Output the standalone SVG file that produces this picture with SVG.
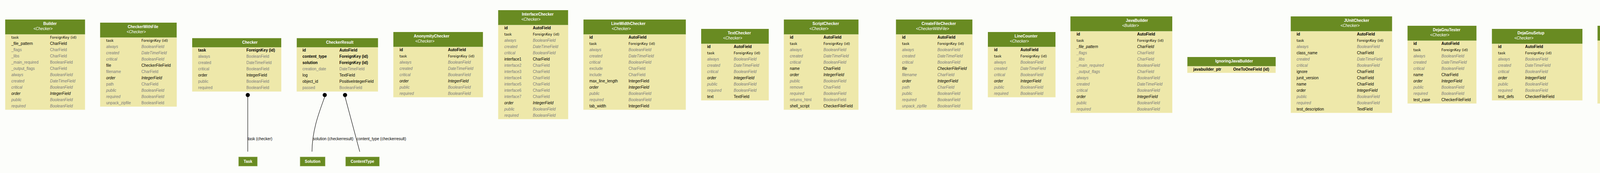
<svg xmlns="http://www.w3.org/2000/svg" width="6851" height="443" viewBox="0 0 6851 443">
<style>
.h{fill:#698b22}
.hl{fill:#93ad5a}
.b{fill:#eee8aa;stroke:#f4f0c8;stroke-width:0.6}
text{font-family:"Liberation Sans",Arial,sans-serif}
.t{font-weight:bold;font-size:10px;fill:#fff}
.s{font-style:italic;font-size:10px;fill:#fff}
.k{font-weight:bold;font-size:10px;fill:#000}
.f{font-family:"DejaVu Sans",sans-serif;font-size:9px;fill:#000}
.n{font-size:10px;fill:#000}
.i{font-style:italic;font-size:10px;fill:#000}
.g{font-size:10px;fill:#7b7b7b}
.gi{font-style:italic;font-size:10px;fill:#7b7b7b}
.el{font-size:10px;fill:#000}
.nt{font-weight:bold;font-size:10px;fill:#fff;text-anchor:middle}
.nb{fill:#698b22;stroke:#c9d8a8;stroke-width:0.8}
</style>
<rect width="6851" height="443" fill="#fcfdfa"/>

<g id="Builder" transform="translate(13.3,50)">
<rect class="h" width="204.4" height="38.5"/><rect class="hl" y="37.5" width="204.4" height="1"/><rect class="b" y="38.5" width="204.4" height="192.5"/>
<text class="t" x="97.4" y="14.3">Builder</text><text class="s" x="72.4" y="27">&lt;Checker&gt;</text>
<text class="f" x="15.7" y="48.5">task</text><text class="f" x="114.7" y="48.5">ForeignKey (id)</text>
<text class="n" x="15.7" y="64.5">_file_pattern</text><text class="n" x="114.7" y="64.5">CharField</text>
<text class="g" x="15.7" y="80.5">_flags</text><text class="g" x="114.7" y="80.5">CharField</text>
<text class="g" x="15.7" y="96.5">_libs</text><text class="g" x="114.7" y="96.5">CharField</text>
<text class="g" x="15.7" y="112.5">_main_required</text><text class="g" x="114.7" y="112.5">BooleanField</text>
<text class="g" x="15.7" y="128.5">_output_flags</text><text class="g" x="114.7" y="128.5">CharField</text>
<text class="gi" x="15.7" y="144.5">always</text><text class="gi" x="114.7" y="144.5">BooleanField</text>
<text class="gi" x="15.7" y="160.5">created</text><text class="gi" x="114.7" y="160.5">DateTimeField</text>
<text class="gi" x="15.7" y="176.5">critical</text><text class="gi" x="114.7" y="176.5">BooleanField</text>
<text class="i" x="15.7" y="192.5">order</text><text class="i" x="114.7" y="192.5">IntegerField</text>
<text class="gi" x="15.7" y="208.5">public</text><text class="gi" x="114.7" y="208.5">BooleanField</text>
<text class="gi" x="15.7" y="224.5">required</text><text class="gi" x="114.7" y="224.5">BooleanField</text>
</g>

<g id="CheckerWithFile" transform="translate(256.3,58)">
<rect class="h" width="196" height="38.5"/><rect class="hl" y="37.5" width="196" height="1"/><rect class="b" y="38.5" width="196" height="176.5"/>
<text class="t" x="70.7" y="14.3">CheckerWithFile</text><text class="s" x="68" y="27">&lt;Checker&gt;</text>
<text class="f" x="15.4" y="48.5">task</text><text class="f" x="105.7" y="48.5">ForeignKey (id)</text>
<text class="gi" x="15.4" y="64.5">always</text><text class="gi" x="105.7" y="64.5">BooleanField</text>
<text class="gi" x="15.4" y="80.5">created</text><text class="gi" x="105.7" y="80.5">DateTimeField</text>
<text class="gi" x="15.4" y="96.5">critical</text><text class="gi" x="105.7" y="96.5">BooleanField</text>
<text class="n" x="15.4" y="112.5">file</text><text class="n" x="105.7" y="112.5">CheckerFileField</text>
<text class="g" x="15.4" y="128.5">filename</text><text class="g" x="105.7" y="128.5">CharField</text>
<text class="i" x="15.4" y="144.5">order</text><text class="i" x="105.7" y="144.5">IntegerField</text>
<text class="g" x="15.4" y="160.5">path</text><text class="g" x="105.7" y="160.5">CharField</text>
<text class="gi" x="15.4" y="176.5">public</text><text class="gi" x="105.7" y="176.5">BooleanField</text>
<text class="gi" x="15.4" y="192.5">required</text><text class="gi" x="105.7" y="192.5">BooleanField</text>
<text class="g" x="15.4" y="208.5">unpack_zipfile</text><text class="g" x="105.7" y="208.5">BooleanField</text>
</g>

<g id="Checker" transform="translate(492,97.7)">
<rect class="h" width="228" height="24"/><rect class="hl" y="23" width="228" height="1"/><rect class="b" y="24" width="228" height="112.5"/>
<text class="t" x="128" y="14">Checker</text>
<text class="k" x="15.3" y="34">task</text><text class="k" x="138.7" y="34">ForeignKey (id)</text>
<text class="g" x="15.3" y="50">always</text><text class="g" x="138.7" y="50">BooleanField</text>
<text class="g" x="15.3" y="66">created</text><text class="g" x="138.7" y="66">DateTimeField</text>
<text class="g" x="15.3" y="82">critical</text><text class="g" x="138.7" y="82">BooleanField</text>
<text class="n" x="15.3" y="98">order</text><text class="n" x="138.7" y="98">IntegerField</text>
<text class="g" x="15.3" y="114">public</text><text class="g" x="138.7" y="114">BooleanField</text>
<text class="g" x="15.3" y="130">required</text><text class="g" x="138.7" y="130">BooleanField</text>
</g>

<g id="CheckerResult" transform="translate(759.7,97.7)">
<rect class="h" width="208" height="24"/><rect class="hl" y="23" width="208" height="1"/><rect class="b" y="24" width="208" height="112.5"/>
<text class="t" x="75" y="14">CheckerResult</text>
<text class="k" x="14.6" y="34">id</text><text class="k" x="109" y="34">AutoField</text>
<text class="k" x="14.6" y="50">content_type</text><text class="k" x="109" y="50">ForeignKey (id)</text>
<text class="k" x="14.6" y="66">solution</text><text class="k" x="109" y="66">ForeignKey (id)</text>
<text class="g" x="14.6" y="82">creation_date</text><text class="g" x="109" y="82">DateTimeField</text>
<text class="n" x="14.6" y="98">log</text><text class="n" x="109" y="98">TextField</text>
<text class="n" x="14.6" y="114">object_id</text><text class="n" x="109" y="114">PositiveIntegerField</text>
<text class="g" x="14.6" y="130">passed</text><text class="g" x="109" y="130">BooleanField</text>
</g>

<g id="AnonymityChecker" transform="translate(1007,82)">
<rect class="h" width="229.3" height="38.5"/><rect class="hl" y="37.5" width="229.3" height="1"/><rect class="b" y="38.5" width="229.3" height="128.5"/>
<text class="t" x="52.3" y="14.3">AnonymityChecker</text><text class="s" x="56.3" y="27">&lt;Checker&gt;</text>
<text class="k" x="15.7" y="48.5">id</text><text class="k" x="139.7" y="48.5">AutoField</text>
<text class="f" x="15.7" y="64.5">task</text><text class="f" x="139.7" y="64.5">ForeignKey (id)</text>
<text class="gi" x="15.7" y="80.5">always</text><text class="gi" x="139.7" y="80.5">BooleanField</text>
<text class="gi" x="15.7" y="96.5">created</text><text class="gi" x="139.7" y="96.5">DateTimeField</text>
<text class="gi" x="15.7" y="112.5">critical</text><text class="gi" x="139.7" y="112.5">BooleanField</text>
<text class="i" x="15.7" y="128.5">order</text><text class="i" x="139.7" y="128.5">IntegerField</text>
<text class="gi" x="15.7" y="144.5">public</text><text class="gi" x="139.7" y="144.5">BooleanField</text>
<text class="gi" x="15.7" y="160.5">required</text><text class="gi" x="139.7" y="160.5">BooleanField</text>
</g>

<g id="InterfaceChecker" transform="translate(1275.3,26)">
<rect class="h" width="179" height="38.5"/><rect class="hl" y="37.5" width="179" height="1"/><rect class="b" y="38.5" width="179" height="240.5"/>
<text class="t" x="60.7" y="14.3">InterfaceChecker</text><text class="s" x="59.4" y="27">&lt;Checker&gt;</text>
<text class="k" x="15.7" y="48.5">id</text><text class="k" x="88.7" y="48.5">AutoField</text>
<text class="f" x="15.7" y="64.5">task</text><text class="f" x="88.7" y="64.5">ForeignKey (id)</text>
<text class="gi" x="15.7" y="80.5">always</text><text class="gi" x="88.7" y="80.5">BooleanField</text>
<text class="gi" x="15.7" y="96.5">created</text><text class="gi" x="88.7" y="96.5">DateTimeField</text>
<text class="gi" x="15.7" y="112.5">critical</text><text class="gi" x="88.7" y="112.5">BooleanField</text>
<text class="n" x="15.7" y="128.5">interface1</text><text class="n" x="88.7" y="128.5">CharField</text>
<text class="g" x="15.7" y="144.5">interface2</text><text class="g" x="88.7" y="144.5">CharField</text>
<text class="g" x="15.7" y="160.5">interface3</text><text class="g" x="88.7" y="160.5">CharField</text>
<text class="g" x="15.7" y="176.5">interface4</text><text class="g" x="88.7" y="176.5">CharField</text>
<text class="g" x="15.7" y="192.5">interface5</text><text class="g" x="88.7" y="192.5">CharField</text>
<text class="g" x="15.7" y="208.5">interface6</text><text class="g" x="88.7" y="208.5">CharField</text>
<text class="g" x="15.7" y="224.5">interface7</text><text class="g" x="88.7" y="224.5">CharField</text>
<text class="i" x="15.7" y="240.5">order</text><text class="i" x="88.7" y="240.5">IntegerField</text>
<text class="gi" x="15.7" y="256.5">public</text><text class="gi" x="88.7" y="256.5">BooleanField</text>
<text class="gi" x="15.7" y="272.5">required</text><text class="gi" x="88.7" y="272.5">BooleanField</text>
</g>

<g id="LineWidthChecker" transform="translate(1493.7,50)">
<rect class="h" width="262" height="38.5"/><rect class="hl" y="37.5" width="262" height="1"/><rect class="b" y="38.5" width="262" height="192.5"/>
<text class="t" x="71" y="14.3">LineWidthChecker</text><text class="s" x="72.3" y="27">&lt;Checker&gt;</text>
<text class="k" x="15" y="48.5">id</text><text class="k" x="115.3" y="48.5">AutoField</text>
<text class="f" x="15" y="64.5">task</text><text class="f" x="115.3" y="64.5">ForeignKey (id)</text>
<text class="gi" x="15" y="80.5">always</text><text class="gi" x="115.3" y="80.5">BooleanField</text>
<text class="gi" x="15" y="96.5">created</text><text class="gi" x="115.3" y="96.5">DateTimeField</text>
<text class="gi" x="15" y="112.5">critical</text><text class="gi" x="115.3" y="112.5">BooleanField</text>
<text class="g" x="15" y="128.5">exclude</text><text class="g" x="115.3" y="128.5">CharField</text>
<text class="g" x="15" y="144.5">include</text><text class="g" x="115.3" y="144.5">CharField</text>
<text class="n" x="15" y="160.5">max_line_length</text><text class="n" x="115.3" y="160.5">IntegerField</text>
<text class="i" x="15" y="176.5">order</text><text class="i" x="115.3" y="176.5">IntegerField</text>
<text class="gi" x="15" y="192.5">public</text><text class="gi" x="115.3" y="192.5">BooleanField</text>
<text class="gi" x="15" y="208.5">required</text><text class="gi" x="115.3" y="208.5">BooleanField</text>
<text class="n" x="15" y="224.5">tab_width</text><text class="n" x="115.3" y="224.5">IntegerField</text>
</g>

<g id="TextChecker" transform="translate(1795,74)">
<rect class="h" width="173" height="38.5"/><rect class="hl" y="37.5" width="173" height="1"/><rect class="b" y="38.5" width="173" height="144.5"/>
<text class="t" x="68" y="14.3">TextChecker</text><text class="s" x="56.3" y="27">&lt;Checker&gt;</text>
<text class="k" x="15.3" y="48.5">id</text><text class="k" x="83.3" y="48.5">AutoField</text>
<text class="f" x="15.3" y="64.5">task</text><text class="f" x="83.3" y="64.5">ForeignKey (id)</text>
<text class="gi" x="15.3" y="80.5">always</text><text class="gi" x="83.3" y="80.5">BooleanField</text>
<text class="gi" x="15.3" y="96.5">created</text><text class="gi" x="83.3" y="96.5">DateTimeField</text>
<text class="gi" x="15.3" y="112.5">critical</text><text class="gi" x="83.3" y="112.5">BooleanField</text>
<text class="i" x="15.3" y="128.5">order</text><text class="i" x="83.3" y="128.5">IntegerField</text>
<text class="gi" x="15.3" y="144.5">public</text><text class="gi" x="83.3" y="144.5">BooleanField</text>
<text class="gi" x="15.3" y="160.5">required</text><text class="gi" x="83.3" y="160.5">BooleanField</text>
<text class="n" x="15.3" y="176.5">text</text><text class="n" x="83.3" y="176.5">TextField</text>
</g>

<g id="ScriptChecker" transform="translate(2006.7,50)">
<rect class="h" width="191" height="38.5"/><rect class="hl" y="37.5" width="191" height="1"/><rect class="b" y="38.5" width="191" height="192.5"/>
<text class="t" x="73.3" y="14.3">ScriptChecker</text><text class="s" x="65.6" y="27">&lt;Checker&gt;</text>
<text class="k" x="15.3" y="48.5">id</text><text class="k" x="101.3" y="48.5">AutoField</text>
<text class="f" x="15.3" y="64.5">task</text><text class="f" x="101.3" y="64.5">ForeignKey (id)</text>
<text class="gi" x="15.3" y="80.5">always</text><text class="gi" x="101.3" y="80.5">BooleanField</text>
<text class="gi" x="15.3" y="96.5">created</text><text class="gi" x="101.3" y="96.5">DateTimeField</text>
<text class="gi" x="15.3" y="112.5">critical</text><text class="gi" x="101.3" y="112.5">BooleanField</text>
<text class="n" x="15.3" y="128.5">name</text><text class="n" x="101.3" y="128.5">CharField</text>
<text class="i" x="15.3" y="144.5">order</text><text class="i" x="101.3" y="144.5">IntegerField</text>
<text class="gi" x="15.3" y="160.5">public</text><text class="gi" x="101.3" y="160.5">BooleanField</text>
<text class="g" x="15.3" y="176.5">remove</text><text class="g" x="101.3" y="176.5">CharField</text>
<text class="gi" x="15.3" y="192.5">required</text><text class="gi" x="101.3" y="192.5">BooleanField</text>
<text class="g" x="15.3" y="208.5">returns_html</text><text class="g" x="101.3" y="208.5">BooleanField</text>
<text class="n" x="15.3" y="224.5">shell_script</text><text class="n" x="101.3" y="224.5">CheckerFileField</text>
</g>

<g id="CreateFileChecker" transform="translate(2293.7,50)">
<rect class="h" width="195.6" height="38.5"/><rect class="hl" y="37.5" width="195.6" height="1"/><rect class="b" y="38.5" width="195.6" height="192.5"/>
<text class="t" x="65.6" y="14.3">CreateFileChecker</text><text class="s" x="51.3" y="27">&lt;CheckerWithFile&gt;</text>
<text class="k" x="15.6" y="48.5">id</text><text class="k" x="106" y="48.5">AutoField</text>
<text class="f" x="15.6" y="64.5">task</text><text class="f" x="106" y="64.5">ForeignKey (id)</text>
<text class="gi" x="15.6" y="80.5">always</text><text class="gi" x="106" y="80.5">BooleanField</text>
<text class="gi" x="15.6" y="96.5">created</text><text class="gi" x="106" y="96.5">DateTimeField</text>
<text class="gi" x="15.6" y="112.5">critical</text><text class="gi" x="106" y="112.5">BooleanField</text>
<text class="i" x="15.6" y="128.5">file</text><text class="i" x="106" y="128.5">CheckerFileField</text>
<text class="gi" x="15.6" y="144.5">filename</text><text class="gi" x="106" y="144.5">CharField</text>
<text class="i" x="15.6" y="160.5">order</text><text class="i" x="106" y="160.5">IntegerField</text>
<text class="gi" x="15.6" y="176.5">path</text><text class="gi" x="106" y="176.5">CharField</text>
<text class="gi" x="15.6" y="192.5">public</text><text class="gi" x="106" y="192.5">BooleanField</text>
<text class="gi" x="15.6" y="208.5">required</text><text class="gi" x="106" y="208.5">BooleanField</text>
<text class="gi" x="15.6" y="224.5">unpack_zipfile</text><text class="gi" x="106" y="224.5">BooleanField</text>
</g>

<g id="LineCounter" transform="translate(2529,82)">
<rect class="h" width="173" height="38.5"/><rect class="hl" y="37.5" width="173" height="1"/><rect class="b" y="38.5" width="173" height="128.5"/>
<text class="t" x="68.3" y="14.3">LineCounter</text><text class="s" x="56.3" y="27">&lt;Checker&gt;</text>
<text class="k" x="15.7" y="48.5">id</text><text class="k" x="83.3" y="48.5">AutoField</text>
<text class="f" x="15.7" y="64.5">task</text><text class="f" x="83.3" y="64.5">ForeignKey (id)</text>
<text class="gi" x="15.7" y="80.5">always</text><text class="gi" x="83.3" y="80.5">BooleanField</text>
<text class="gi" x="15.7" y="96.5">created</text><text class="gi" x="83.3" y="96.5">DateTimeField</text>
<text class="gi" x="15.7" y="112.5">critical</text><text class="gi" x="83.3" y="112.5">BooleanField</text>
<text class="i" x="15.7" y="128.5">order</text><text class="i" x="83.3" y="128.5">IntegerField</text>
<text class="gi" x="15.7" y="144.5">public</text><text class="gi" x="83.3" y="144.5">BooleanField</text>
<text class="gi" x="15.7" y="160.5">required</text><text class="gi" x="83.3" y="160.5">BooleanField</text>
</g>

<g id="JavaBuilder" transform="translate(2740.3,42)">
<rect class="h" width="260.7" height="38.5"/><rect class="hl" y="37.5" width="260.7" height="1"/><rect class="b" y="38.5" width="260.7" height="208.5"/>
<text class="t" x="142" y="14.3">JavaBuilder</text><text class="s" x="132.4" y="27">&lt;Builder&gt;</text>
<text class="k" x="15.7" y="48.5">id</text><text class="k" x="170.7" y="48.5">AutoField</text>
<text class="f" x="15.7" y="64.5">task</text><text class="f" x="170.7" y="64.5">ForeignKey (id)</text>
<text class="i" x="15.7" y="80.5">_file_pattern</text><text class="i" x="170.7" y="80.5">CharField</text>
<text class="gi" x="15.7" y="96.5">_flags</text><text class="gi" x="170.7" y="96.5">CharField</text>
<text class="gi" x="15.7" y="112.5">_libs</text><text class="gi" x="170.7" y="112.5">CharField</text>
<text class="gi" x="15.7" y="128.5">_main_required</text><text class="gi" x="170.7" y="128.5">BooleanField</text>
<text class="gi" x="15.7" y="144.5">_output_flags</text><text class="gi" x="170.7" y="144.5">CharField</text>
<text class="gi" x="15.7" y="160.5">always</text><text class="gi" x="170.7" y="160.5">BooleanField</text>
<text class="gi" x="15.7" y="176.5">created</text><text class="gi" x="170.7" y="176.5">DateTimeField</text>
<text class="gi" x="15.7" y="192.5">critical</text><text class="gi" x="170.7" y="192.5">BooleanField</text>
<text class="i" x="15.7" y="208.5">order</text><text class="i" x="170.7" y="208.5">IntegerField</text>
<text class="gi" x="15.7" y="224.5">public</text><text class="gi" x="170.7" y="224.5">BooleanField</text>
<text class="gi" x="15.7" y="240.5">required</text><text class="gi" x="170.7" y="240.5">BooleanField</text>
</g>

<g id="IgnoringJavaBuilder" transform="translate(3039.7,146)">
<rect class="h" width="226" height="24"/><rect class="hl" y="23" width="226" height="1"/><rect class="b" y="24" width="226" height="16.5"/>
<text class="t" x="71.3" y="14">IgnoringJavaBuilder</text>
<text class="k" x="15" y="35">javabuilder_ptr</text><text class="k" x="117.3" y="35">OneToOneField (id)</text>
</g>

<g id="JUnitChecker" transform="translate(3304.3,42)">
<rect class="h" width="259.4" height="38.5"/><rect class="hl" y="37.5" width="259.4" height="1"/><rect class="b" y="38.5" width="259.4" height="208.5"/>
<text class="t" x="136.4" y="14.3">JUnitChecker</text><text class="s" x="127.4" y="27">&lt;Checker&gt;</text>
<text class="k" x="15" y="48.5">id</text><text class="k" x="169.4" y="48.5">AutoField</text>
<text class="f" x="15" y="64.5">task</text><text class="f" x="169.4" y="64.5">ForeignKey (id)</text>
<text class="gi" x="15" y="80.5">always</text><text class="gi" x="169.4" y="80.5">BooleanField</text>
<text class="n" x="15" y="96.5">class_name</text><text class="n" x="169.4" y="96.5">CharField</text>
<text class="gi" x="15" y="112.5">created</text><text class="gi" x="169.4" y="112.5">DateTimeField</text>
<text class="gi" x="15" y="128.5">critical</text><text class="gi" x="169.4" y="128.5">BooleanField</text>
<text class="n" x="15" y="144.5">ignore</text><text class="n" x="169.4" y="144.5">CharField</text>
<text class="n" x="15" y="160.5">junit_version</text><text class="n" x="169.4" y="160.5">CharField</text>
<text class="n" x="15" y="176.5">name</text><text class="n" x="169.4" y="176.5">CharField</text>
<text class="i" x="15" y="192.5">order</text><text class="i" x="169.4" y="192.5">IntegerField</text>
<text class="gi" x="15" y="208.5">public</text><text class="gi" x="169.4" y="208.5">BooleanField</text>
<text class="gi" x="15" y="224.5">required</text><text class="gi" x="169.4" y="224.5">BooleanField</text>
<text class="n" x="15" y="240.5">test_description</text><text class="n" x="169.4" y="240.5">TextField</text>
</g>

<g id="DejaGnuTester" transform="translate(3603.3,66)">
<rect class="h" width="176.4" height="38.5"/><rect class="hl" y="37.5" width="176.4" height="1"/><rect class="b" y="38.5" width="176.4" height="160.5"/>
<text class="t" x="65" y="14.3">DejaGnuTester</text><text class="s" x="58" y="27">&lt;Checker&gt;</text>
<text class="k" x="15" y="48.5">id</text><text class="k" x="86.7" y="48.5">AutoField</text>
<text class="f" x="15" y="64.5">task</text><text class="f" x="86.7" y="64.5">ForeignKey (id)</text>
<text class="gi" x="15" y="80.5">always</text><text class="gi" x="86.7" y="80.5">BooleanField</text>
<text class="gi" x="15" y="96.5">created</text><text class="gi" x="86.7" y="96.5">DateTimeField</text>
<text class="gi" x="15" y="112.5">critical</text><text class="gi" x="86.7" y="112.5">BooleanField</text>
<text class="n" x="15" y="128.5">name</text><text class="n" x="86.7" y="128.5">CharField</text>
<text class="i" x="15" y="144.5">order</text><text class="i" x="86.7" y="144.5">IntegerField</text>
<text class="gi" x="15" y="160.5">public</text><text class="gi" x="86.7" y="160.5">BooleanField</text>
<text class="gi" x="15" y="176.5">required</text><text class="gi" x="86.7" y="176.5">BooleanField</text>
<text class="n" x="15" y="192.5">test_case</text><text class="n" x="86.7" y="192.5">CheckerFileField</text>
</g>

<g id="DejaGnuSetup" transform="translate(3819.3,74)">
<rect class="h" width="231.7" height="38.5"/><rect class="hl" y="37.5" width="231.7" height="1"/><rect class="b" y="38.5" width="231.7" height="144.5"/>
<text class="t" x="65.4" y="14.3">DejaGnuSetup</text><text class="s" x="57.4" y="27">&lt;Checker&gt;</text>
<text class="k" x="15.7" y="48.5">id</text><text class="k" x="85" y="48.5">AutoField</text>
<text class="f" x="15.7" y="64.5">task</text><text class="f" x="85" y="64.5">ForeignKey (id)</text>
<text class="gi" x="15.7" y="80.5">always</text><text class="gi" x="85" y="80.5">BooleanField</text>
<text class="gi" x="15.7" y="96.5">created</text><text class="gi" x="85" y="96.5">DateTimeField</text>
<text class="gi" x="15.7" y="112.5">critical</text><text class="gi" x="85" y="112.5">BooleanField</text>
<text class="i" x="15.7" y="128.5">order</text><text class="i" x="85" y="128.5">IntegerField</text>
<text class="gi" x="15.7" y="144.5">public</text><text class="gi" x="85" y="144.5">BooleanField</text>
<text class="gi" x="15.7" y="160.5">required</text><text class="gi" x="85" y="160.5">BooleanField</text>
<text class="n" x="15.7" y="176.5">test_defs</text><text class="n" x="85" y="176.5">CheckerFileField</text>
</g>

<g id="CheckStyleChecker" transform="translate(4089.7,66)">
<rect class="h" width="191" height="38.5"/><rect class="hl" y="37.5" width="191" height="1"/><rect class="b" y="38.5" width="191" height="160.5"/>
<text class="t" x="60.6" y="14.3">CheckStyleChecker</text><text class="s" x="65" y="27">&lt;Checker&gt;</text>
<text class="k" x="14.6" y="48.5">id</text><text class="k" x="101" y="48.5">AutoField</text>
<text class="f" x="14.6" y="64.5">task</text><text class="f" x="101" y="64.5">ForeignKey (id)</text>
<text class="gi" x="14.6" y="80.5">always</text><text class="gi" x="101" y="80.5">BooleanField</text>
<text class="n" x="14.6" y="96.5">configuration</text><text class="n" x="101" y="96.5">CheckerFileField</text>
<text class="gi" x="14.6" y="112.5">created</text><text class="gi" x="101" y="112.5">DateTimeField</text>
<text class="gi" x="14.6" y="128.5">critical</text><text class="gi" x="101" y="128.5">BooleanField</text>
<text class="n" x="14.6" y="144.5">name</text><text class="n" x="101" y="144.5">CharField</text>
<text class="i" x="14.6" y="160.5">order</text><text class="i" x="101" y="160.5">IntegerField</text>
<text class="gi" x="14.6" y="176.5">public</text><text class="gi" x="101" y="176.5">BooleanField</text>
<text class="gi" x="14.6" y="192.5">required</text><text class="gi" x="101" y="192.5">BooleanField</text>
</g>

<g id="IsabelleChecker" transform="translate(4320,74)">
<rect class="h" width="173" height="38.5"/><rect class="hl" y="37.5" width="173" height="1"/><rect class="b" y="38.5" width="173" height="144.5"/>
<text class="t" x="60.7" y="14.3">IsabelleChecker</text><text class="s" x="56.3" y="27">&lt;Checker&gt;</text>
<text class="k" x="15.3" y="48.5">id</text><text class="k" x="83.3" y="48.5">AutoField</text>
<text class="f" x="15.3" y="64.5">task</text><text class="f" x="83.3" y="64.5">ForeignKey (id)</text>
<text class="gi" x="15.3" y="80.5">always</text><text class="gi" x="83.3" y="80.5">BooleanField</text>
<text class="gi" x="15.3" y="96.5">created</text><text class="gi" x="83.3" y="96.5">DateTimeField</text>
<text class="gi" x="15.3" y="112.5">critical</text><text class="gi" x="83.3" y="112.5">BooleanField</text>
<text class="n" x="15.3" y="128.5">logic</text><text class="n" x="83.3" y="128.5">CharField</text>
<text class="i" x="15.3" y="144.5">order</text><text class="i" x="83.3" y="144.5">IntegerField</text>
<text class="gi" x="15.3" y="160.5">public</text><text class="gi" x="83.3" y="160.5">BooleanField</text>
<text class="gi" x="15.3" y="176.5">required</text><text class="gi" x="83.3" y="176.5">BooleanField</text>
</g>

<g id="HaskellBuilder" transform="translate(4588,42)">
<rect class="h" width="204" height="38.5"/><rect class="hl" y="37.5" width="204" height="1"/><rect class="b" y="38.5" width="204" height="208.5"/>
<text class="t" x="79.7" y="14.3">HaskellBuilder</text><text class="s" x="75.7" y="27">&lt;Builder&gt;</text>
<text class="k" x="15.3" y="48.5">id</text><text class="k" x="114" y="48.5">AutoField</text>
<text class="f" x="15.3" y="64.5">task</text><text class="f" x="114" y="64.5">ForeignKey (id)</text>
<text class="i" x="15.3" y="80.5">_file_pattern</text><text class="i" x="114" y="80.5">CharField</text>
<text class="gi" x="15.3" y="96.5">_flags</text><text class="gi" x="114" y="96.5">CharField</text>
<text class="gi" x="15.3" y="112.5">_libs</text><text class="gi" x="114" y="112.5">CharField</text>
<text class="gi" x="15.3" y="128.5">_main_required</text><text class="gi" x="114" y="128.5">BooleanField</text>
<text class="gi" x="15.3" y="144.5">_output_flags</text><text class="gi" x="114" y="144.5">CharField</text>
<text class="gi" x="15.3" y="160.5">always</text><text class="gi" x="114" y="160.5">BooleanField</text>
<text class="gi" x="15.3" y="176.5">created</text><text class="gi" x="114" y="176.5">DateTimeField</text>
<text class="gi" x="15.3" y="192.5">critical</text><text class="gi" x="114" y="192.5">BooleanField</text>
<text class="i" x="15.3" y="208.5">order</text><text class="i" x="114" y="208.5">IntegerField</text>
<text class="gi" x="15.3" y="224.5">public</text><text class="gi" x="114" y="224.5">BooleanField</text>
<text class="gi" x="15.3" y="240.5">required</text><text class="gi" x="114" y="240.5">BooleanField</text>
</g>

<g id="IgnoringHaskellBuilder" transform="translate(4830.7,146)">
<rect class="h" width="240.3" height="24"/><rect class="hl" y="23" width="240.3" height="1"/><rect class="b" y="24" width="240.3" height="16.5"/>
<text class="t" x="72.3" y="14">IgnoringHaskellBuilder</text>
<text class="k" x="15.6" y="35">haskellbuilder_ptr</text><text class="k" x="132" y="35">OneToOneField (id)</text>
</g>

<g id="TestOnlyBuildingBuilder" transform="translate(5165.7,146)">
<rect class="h" width="240.6" height="24"/><rect class="hl" y="23" width="240.6" height="1"/><rect class="b" y="24" width="240.6" height="16.5"/>
<text class="t" x="68" y="14">TestOnlyBuildingBuilder</text>
<text class="k" x="16.3" y="35">haskellbuilder_ptr</text><text class="k" x="132" y="35">OneToOneField (id)</text>
</g>

<g id="HaskellTestFrameWorkChecker" transform="translate(5445,10)">
<rect class="h" width="307.3" height="38.5"/><rect class="hl" y="37.5" width="307.3" height="1"/><rect class="b" y="38.5" width="307.3" height="272.5"/>
<text class="t" x="62.7" y="14.3">HaskellTestFrameWorkChecker</text><text class="s" x="78.7" y="27">&lt;CheckerWithFile&gt;</text>
<text class="k" x="15" y="48.5">id</text><text class="k" x="160.3" y="48.5">AutoField</text>
<text class="f" x="15" y="64.5">task</text><text class="f" x="160.3" y="64.5">ForeignKey (id)</text>
<text class="gi" x="15" y="80.5">always</text><text class="gi" x="160.3" y="80.5">BooleanField</text>
<text class="gi" x="15" y="96.5">created</text><text class="gi" x="160.3" y="96.5">DateTimeField</text>
<text class="gi" x="15" y="112.5">critical</text><text class="gi" x="160.3" y="112.5">BooleanField</text>
<text class="i" x="15" y="128.5">file</text><text class="i" x="160.3" y="128.5">CheckerFileField</text>
<text class="gi" x="15" y="144.5">filename</text><text class="gi" x="160.3" y="144.5">CharField</text>
<text class="g" x="15" y="160.5">ignore</text><text class="g" x="160.3" y="160.5">CharField</text>
<text class="n" x="15" y="176.5">include_testcase_in_report</text><text class="n" x="160.3" y="176.5">CharField</text>
<text class="n" x="15" y="192.5">name</text><text class="n" x="160.3" y="192.5">CharField</text>
<text class="i" x="15" y="208.5">order</text><text class="i" x="160.3" y="208.5">IntegerField</text>
<text class="gi" x="15" y="224.5">path</text><text class="gi" x="160.3" y="224.5">CharField</text>
<text class="gi" x="15" y="240.5">public</text><text class="gi" x="160.3" y="240.5">BooleanField</text>
<text class="g" x="15" y="256.5">require_safe</text><text class="g" x="160.3" y="256.5">BooleanField</text>
<text class="gi" x="15" y="272.5">required</text><text class="gi" x="160.3" y="272.5">BooleanField</text>
<text class="n" x="15" y="288.5">test_description</text><text class="n" x="160.3" y="288.5">TextField</text>
<text class="gi" x="15" y="304.5">unpack_zipfile</text><text class="gi" x="160.3" y="304.5">BooleanField</text>
</g>

<g id="CBuilder" transform="translate(5791.7,42)">
<rect class="h" width="204" height="38.5"/><rect class="hl" y="37.5" width="204" height="1"/><rect class="b" y="38.5" width="204" height="208.5"/>
<text class="t" x="93" y="14.3">CBuilder</text><text class="s" x="76" y="27">&lt;Builder&gt;</text>
<text class="k" x="15.6" y="48.5">id</text><text class="k" x="114" y="48.5">AutoField</text>
<text class="f" x="15.6" y="64.5">task</text><text class="f" x="114" y="64.5">ForeignKey (id)</text>
<text class="i" x="15.6" y="80.5">_file_pattern</text><text class="i" x="114" y="80.5">CharField</text>
<text class="gi" x="15.6" y="96.5">_flags</text><text class="gi" x="114" y="96.5">CharField</text>
<text class="gi" x="15.6" y="112.5">_libs</text><text class="gi" x="114" y="112.5">CharField</text>
<text class="gi" x="15.6" y="128.5">_main_required</text><text class="gi" x="114" y="128.5">BooleanField</text>
<text class="gi" x="15.6" y="144.5">_output_flags</text><text class="gi" x="114" y="144.5">CharField</text>
<text class="gi" x="15.6" y="160.5">always</text><text class="gi" x="114" y="160.5">BooleanField</text>
<text class="gi" x="15.6" y="176.5">created</text><text class="gi" x="114" y="176.5">DateTimeField</text>
<text class="gi" x="15.6" y="192.5">critical</text><text class="gi" x="114" y="192.5">BooleanField</text>
<text class="i" x="15.6" y="208.5">order</text><text class="i" x="114" y="208.5">IntegerField</text>
<text class="gi" x="15.6" y="224.5">public</text><text class="gi" x="114" y="224.5">BooleanField</text>
<text class="gi" x="15.6" y="240.5">required</text><text class="gi" x="114" y="240.5">BooleanField</text>
</g>

<g id="CXXBuilder" transform="translate(6034.3,42)">
<rect class="h" width="260.7" height="38.5"/><rect class="hl" y="37.5" width="260.7" height="1"/><rect class="b" y="38.5" width="260.7" height="208.5"/>
<text class="t" x="86.7" y="14.3">CXXBuilder</text><text class="s" x="75.7" y="27">&lt;Builder&gt;</text>
<text class="k" x="15.7" y="48.5">id</text><text class="k" x="114" y="48.5">AutoField</text>
<text class="f" x="15.7" y="64.5">task</text><text class="f" x="114" y="64.5">ForeignKey (id)</text>
<text class="i" x="15.7" y="80.5">_file_pattern</text><text class="i" x="114" y="80.5">CharField</text>
<text class="gi" x="15.7" y="96.5">_flags</text><text class="gi" x="114" y="96.5">CharField</text>
<text class="gi" x="15.7" y="112.5">_libs</text><text class="gi" x="114" y="112.5">CharField</text>
<text class="gi" x="15.7" y="128.5">_main_required</text><text class="gi" x="114" y="128.5">BooleanField</text>
<text class="gi" x="15.7" y="144.5">_output_flags</text><text class="gi" x="114" y="144.5">CharField</text>
<text class="gi" x="15.7" y="160.5">always</text><text class="gi" x="114" y="160.5">BooleanField</text>
<text class="gi" x="15.7" y="176.5">created</text><text class="gi" x="114" y="176.5">DateTimeField</text>
<text class="gi" x="15.7" y="192.5">critical</text><text class="gi" x="114" y="192.5">BooleanField</text>
<text class="i" x="15.7" y="208.5">order</text><text class="i" x="114" y="208.5">IntegerField</text>
<text class="gi" x="15.7" y="224.5">public</text><text class="gi" x="114" y="224.5">BooleanField</text>
<text class="gi" x="15.7" y="240.5">required</text><text class="gi" x="114" y="240.5">BooleanField</text>
</g>

<g id="JavaGCCBuilder" transform="translate(6333.7,42)">
<rect class="h" width="204" height="38.5"/><rect class="hl" y="37.5" width="204" height="1"/><rect class="b" y="38.5" width="204" height="208.5"/>
<text class="t" x="74.3" y="14.3">JavaGCCBuilder</text><text class="s" x="76" y="27">&lt;Builder&gt;</text>
<text class="k" x="15" y="48.5">id</text><text class="k" x="114.3" y="48.5">AutoField</text>
<text class="f" x="15" y="64.5">task</text><text class="f" x="114.3" y="64.5">ForeignKey (id)</text>
<text class="i" x="15" y="80.5">_file_pattern</text><text class="i" x="114.3" y="80.5">CharField</text>
<text class="gi" x="15" y="96.5">_flags</text><text class="gi" x="114.3" y="96.5">CharField</text>
<text class="gi" x="15" y="112.5">_libs</text><text class="gi" x="114.3" y="112.5">CharField</text>
<text class="gi" x="15" y="128.5">_main_required</text><text class="gi" x="114.3" y="128.5">BooleanField</text>
<text class="gi" x="15" y="144.5">_output_flags</text><text class="gi" x="114.3" y="144.5">CharField</text>
<text class="gi" x="15" y="160.5">always</text><text class="gi" x="114.3" y="160.5">BooleanField</text>
<text class="gi" x="15" y="176.5">created</text><text class="gi" x="114.3" y="176.5">DateTimeField</text>
<text class="gi" x="15" y="192.5">critical</text><text class="gi" x="114.3" y="192.5">BooleanField</text>
<text class="i" x="15" y="208.5">order</text><text class="i" x="114.3" y="208.5">IntegerField</text>
<text class="gi" x="15" y="224.5">public</text><text class="gi" x="114.3" y="224.5">BooleanField</text>
<text class="gi" x="15" y="240.5">required</text><text class="gi" x="114.3" y="240.5">BooleanField</text>
</g>

<g id="FortranBuilder" transform="translate(6576.3,42)">
<rect class="h" width="204" height="38.5"/><rect class="hl" y="37.5" width="204" height="1"/><rect class="b" y="38.5" width="204" height="208.5"/>
<text class="t" x="79" y="14.3">FortranBuilder</text><text class="s" x="75.7" y="27">&lt;Builder&gt;</text>
<text class="k" x="15.4" y="48.5">id</text><text class="k" x="114.4" y="48.5">AutoField</text>
<text class="f" x="15.4" y="64.5">task</text><text class="f" x="114.4" y="64.5">ForeignKey (id)</text>
<text class="i" x="15.4" y="80.5">_file_pattern</text><text class="i" x="114.4" y="80.5">CharField</text>
<text class="gi" x="15.4" y="96.5">_flags</text><text class="gi" x="114.4" y="96.5">CharField</text>
<text class="gi" x="15.4" y="112.5">_libs</text><text class="gi" x="114.4" y="112.5">CharField</text>
<text class="gi" x="15.4" y="128.5">_main_required</text><text class="gi" x="114.4" y="128.5">BooleanField</text>
<text class="gi" x="15.4" y="144.5">_output_flags</text><text class="gi" x="114.4" y="144.5">CharField</text>
<text class="gi" x="15.4" y="160.5">always</text><text class="gi" x="114.4" y="160.5">BooleanField</text>
<text class="gi" x="15.4" y="176.5">created</text><text class="gi" x="114.4" y="176.5">DateTimeField</text>
<text class="gi" x="15.4" y="192.5">critical</text><text class="gi" x="114.4" y="192.5">BooleanField</text>
<text class="i" x="15.4" y="208.5">order</text><text class="i" x="114.4" y="208.5">IntegerField</text>
<text class="gi" x="15.4" y="224.5">public</text><text class="gi" x="114.4" y="224.5">BooleanField</text>
<text class="gi" x="15.4" y="240.5">required</text><text class="gi" x="114.4" y="240.5">BooleanField</text>
</g>

<g id="Task"><rect class="nb" x="610.7" y="401.7" width="48.3" height="24"/><text class="nt" x="634.8" y="417">Task</text></g>
<g id="Solution"><rect class="nb" x="768" y="401.7" width="64.7" height="24"/><text class="nt" x="800.3" y="417">Solution</text></g>
<g id="ContentType"><rect class="nb" x="884.7" y="401.7" width="86.6" height="24"/><text class="nt" x="928" y="417">ContentType</text></g>

<g id="connectors">
<g fill="none" stroke="#000" stroke-width="1.1">
<path d="M634.3,248 V388.3"/>
<path d="M831.3,248 C818,285 799,332 798.7,388.3"/>
<path d="M883.3,248 L921,388.3"/>
</g>
<g fill="#000">
<circle cx="634.3" cy="243.3" r="5.3"/>
<circle cx="831.3" cy="243.3" r="5.3"/>
<circle cx="883.3" cy="243.3" r="5.3"/>
</g>
<text class="el" x="634.3" y="358.7">task (checker)</text>
<text class="el" x="801.3" y="358.7">solution (checkerresult)</text>
<text class="el" x="913.3" y="358.7">content_type (checkerresult)</text>
</g>
</svg>
